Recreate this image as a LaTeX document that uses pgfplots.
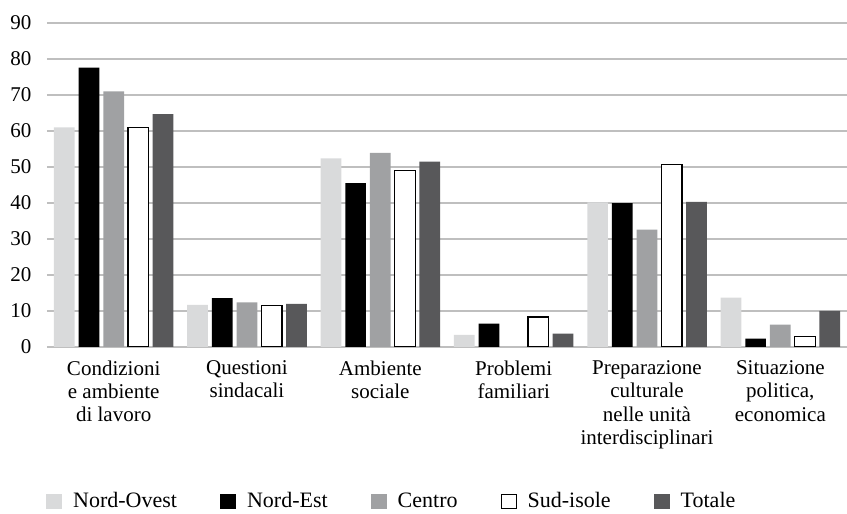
\documentclass[border=0pt]{standalone}
\usepackage{pgfplots}
\pgfplotsset{compat=1.18}
\usepackage{fontspec}
\setmainfont{Liberation Serif}
\definecolor{cNO}{HTML}{D9DADB}
\definecolor{cCE}{HTML}{A0A1A3}
\definecolor{cTO}{HTML}{58585A}
\definecolor{cGR}{HTML}{BFBFBF}
\begin{document}
\begin{tikzpicture}
\path[use as bounding box] (0,0) rectangle (847pt,514pt);
\begin{axis}[
  at={(47pt,167pt)}, anchor=south west,
  scale only axis, width=800pt, height=324pt,
  xmin=-0.5, xmax=5.5, ymin=0, ymax=90,
  ytick={0,10,...,90},
  xtick={0,1,2,3,4,5},
  xticklabels={{Condizioni\\e ambiente\\di lavoro},{Questioni\\sindacali},{Ambiente\\sociale},{Problemi\\familiari},{Preparazione\\culturale\\nelle unità\\interdisciplinari},{Situazione\\politica,\\economica}},
  /pgf/number format/assume math mode=true,
  axis line style={draw=none},
  major tick length=0pt,
  ymajorgrids, grid style={cGR, line width=1.2pt},
  tick label style={font=\fontsize{21}{23.3}\selectfont},
  xticklabel style={align=center, anchor=north, yshift=-10pt},
  yticklabel style={anchor=east, xshift=-12pt},
  ybar=4pt, bar width=20.7pt,
  legend style={at={(rel axis cs:0,0)}, anchor=west, yshift=-154pt, xshift=-1pt, draw=none, inner sep=0pt,
    legend columns=-1, font=\fontsize{22}{24}\selectfont,
    /tikz/every odd column/.append style={column sep=9pt},
    /tikz/every even column/.append style={column sep=41pt}},
  legend image code/.code={\draw[#1, draw=none] (0pt,-7.5pt) rectangle (16pt,7.5pt);},
]
\addplot[fill=cNO, draw=none] coordinates {(0,61.0) (1,11.7) (2,52.4) (3,3.4) (4,40.2) (5,13.7)};
\addplot[fill=black, draw=none] coordinates {(0,77.6) (1,13.6) (2,45.5) (3,6.5) (4,40.0) (5,2.3)};
\addplot[fill=cCE, draw=none] coordinates {(0,71.0) (1,12.4) (2,53.9) (4,32.6) (5,6.2)};
\addplot[fill=white, draw=black, line width=1.3pt, legend image code/.code={\draw[fill=white, draw=black, line width=0.8pt] (0.4pt,-7.1pt) rectangle (15.6pt,7.1pt);}] coordinates {(0,60.9) (1,11.5) (2,49.1) (3,8.3) (4,50.6) (5,3.0)};
\addplot[fill=cTO, draw=none] coordinates {(0,64.7) (1,12.0) (2,51.5) (3,3.7) (4,40.3) (5,10.0)};
\legend{Nord-Ovest,Nord-Est,Centro,Sud-isole,Totale}
\end{axis}
\end{tikzpicture}
\end{document}
